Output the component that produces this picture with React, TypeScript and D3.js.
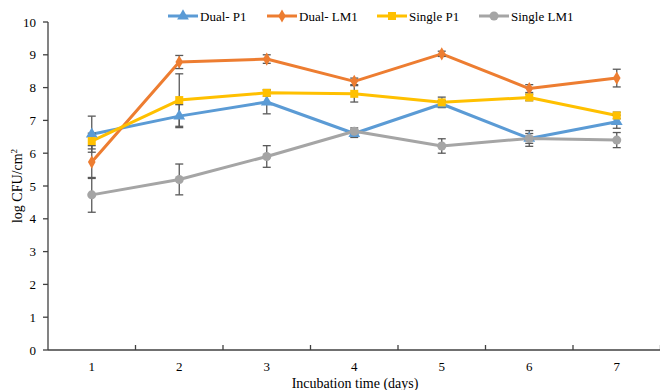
import { useEffect, useRef } from 'react'
import * as d3 from 'd3'

const days = ['1', '2', '3', '4', '5', '6', '7']
const yTicks = [0, 1, 2, 3, 4, 5, 6, 7, 8, 9, 10]

const dualP1 = [6.58, 7.13, 7.56, 6.6, 7.5, 6.45, 6.96]
const dualP1Err = [0.55, 0.35, 0.36, 0.12, 0.1, 0.15, 0.2]
const dualLM1 = [5.73, 8.78, 8.87, 8.19, 9.03, 7.97, 8.29]
const dualLM1Err = [0.5, 0.2, 0.13, 0.1, 0.08, 0.12, 0.27]
const singleP1 = [6.37, 7.62, 7.84, 7.81, 7.55, 7.7, 7.15]
const singleP1Err = [0.24, 0.8, 0.1, 0.25, 0.16, 0.1, 0.1]
const singleLM1 = [4.73, 5.2, 5.9, 6.67, 6.22, 6.45, 6.4]
const singleLM1Err = [0.53, 0.47, 0.33, 0.1, 0.22, 0.24, 0.23]

const series = [
  { name: 'Dual- P1', values: dualP1, err: dualP1Err, color: '#5B9BD5', symbol: d3.symbolTriangle, size: 60 },
  { name: 'Dual- LM1', values: dualLM1, err: dualLM1Err, color: '#ED7D31', symbol: d3.symbolDiamond, size: 50 },
  { name: 'Single P1', values: singleP1, err: singleP1Err, color: '#FFC000', symbol: d3.symbolSquare, size: 64 },
  { name: 'Single LM1', values: singleLM1, err: singleLM1Err, color: '#A5A5A5', symbol: d3.symbolCircle, size: 64 },
]

const legendX = [168, 267, 377, 479]

export default function App() {
  const svgRef = useRef<SVGSVGElement>(null)

  useEffect(() => {
    if (!svgRef.current) return
    const svg = d3.select(svgRef.current)
    svg.selectAll('*').remove()

    const font = '"Liberation Serif", "Times New Roman", serif'
    const axisColor = '#404040'

    const x = d3.scaleBand().domain(days).range([48, 660.5])
    const y = d3.scaleLinear().domain([0, 10]).range([350, 22])
    const cx = (i: number) => (x(days[i]) as number) + x.bandwidth() / 2

    // y axis
    svg.append('line')
      .attr('x1', 48).attr('x2', 48).attr('y1', y(10)).attr('y2', y(0))
      .attr('stroke', axisColor).attr('stroke-width', 1.3)
    yTicks.forEach((t) => {
      svg.append('line')
        .attr('x1', 43).attr('x2', 48).attr('y1', y(t)).attr('y2', y(t))
        .attr('stroke', axisColor).attr('stroke-width', 1.3)
      svg.append('text')
        .attr('x', 36).attr('y', y(t) + 4.5)
        .attr('text-anchor', 'end').attr('font-family', font).attr('font-size', 13)
        .attr('fill', '#000').text(String(t))
    })

    // x axis
    svg.append('line')
      .attr('x1', 48).attr('x2', 660).attr('y1', y(0)).attr('y2', y(0))
      .attr('stroke', axisColor).attr('stroke-width', 1.3)
    days.forEach((d, i) => {
      const bx = (x(d) as number) + x.bandwidth()
      svg.append('line')
        .attr('x1', bx).attr('x2', bx).attr('y1', y(0) - 5).attr('y2', y(0))
        .attr('stroke', axisColor).attr('stroke-width', 1.3)
      svg.append('text')
        .attr('x', cx(i)).attr('y', y(0) + 21)
        .attr('text-anchor', 'middle').attr('font-family', font).attr('font-size', 13)
        .attr('fill', '#000').text(d)
    })

    svg.append('text')
      .attr('x', 355).attr('y', 388)
      .attr('text-anchor', 'middle').attr('font-family', font).attr('font-size', 14)
      .attr('fill', '#000').text('Incubation time (days)')

    const yl = svg.append('text')
      .attr('transform', `translate(22,${y(5)}) rotate(-90)`)
      .attr('text-anchor', 'middle').attr('font-family', font).attr('font-size', 14)
      .attr('fill', '#000')
    yl.append('tspan').text('log CFU/cm')
    yl.append('tspan').attr('baseline-shift', 'super').attr('font-size', 9).text('2')

    // lines
    const line = d3.line<number>().x((_, i) => cx(i)).y((v) => y(v))
    series.forEach((s) => {
      svg.append('path')
        .attr('d', line(s.values))
        .attr('fill', 'none').attr('stroke', s.color).attr('stroke-width', 3)
        .attr('stroke-linejoin', 'round')
    })

    // error bars
    series.forEach((s) => {
      s.values.forEach((v, i) => {
        const px = cx(i)
        const g = svg.append('g').attr('stroke', '#595959').attr('stroke-width', 1.3)
        g.append('line').attr('x1', px).attr('x2', px).attr('y1', y(v - s.err[i])).attr('y2', y(v + s.err[i]))
        ;[v - s.err[i], v + s.err[i]].forEach((e) => {
          g.append('line').attr('x1', px - 4).attr('x2', px + 4).attr('y1', y(e)).attr('y2', y(e))
        })
      })
    })

    // markers
    series.forEach((s) => {
      const sym = d3.symbol().type(s.symbol).size(s.size)
      s.values.forEach((v, i) => {
        svg.append('path')
          .attr('d', sym())
          .attr('transform', `translate(${cx(i)},${y(v)})`)
          .attr('fill', s.color)
      })
    })

    // legend
    series.forEach((s, i) => {
      const lx = legendX[i]
      const ly = 16
      svg.append('line')
        .attr('x1', lx).attr('x2', lx + 30).attr('y1', ly).attr('y2', ly)
        .attr('stroke', s.color).attr('stroke-width', 3)
      svg.append('path')
        .attr('d', d3.symbol().type(s.symbol).size(s.size)())
        .attr('transform', `translate(${lx + 15},${ly})`)
        .attr('fill', s.color)
      svg.append('text')
        .attr('x', lx + 32).attr('y', ly + 4.5)
        .attr('font-family', font).attr('font-size', 13)
        .attr('fill', '#000').text(s.name)
    })
  }, [])

  return (
    <svg
      ref={svgRef}
      width={660}
      height={390}
      style={{ position: 'absolute', left: 0, top: 0, background: '#fff' }}
    />
  )
}
